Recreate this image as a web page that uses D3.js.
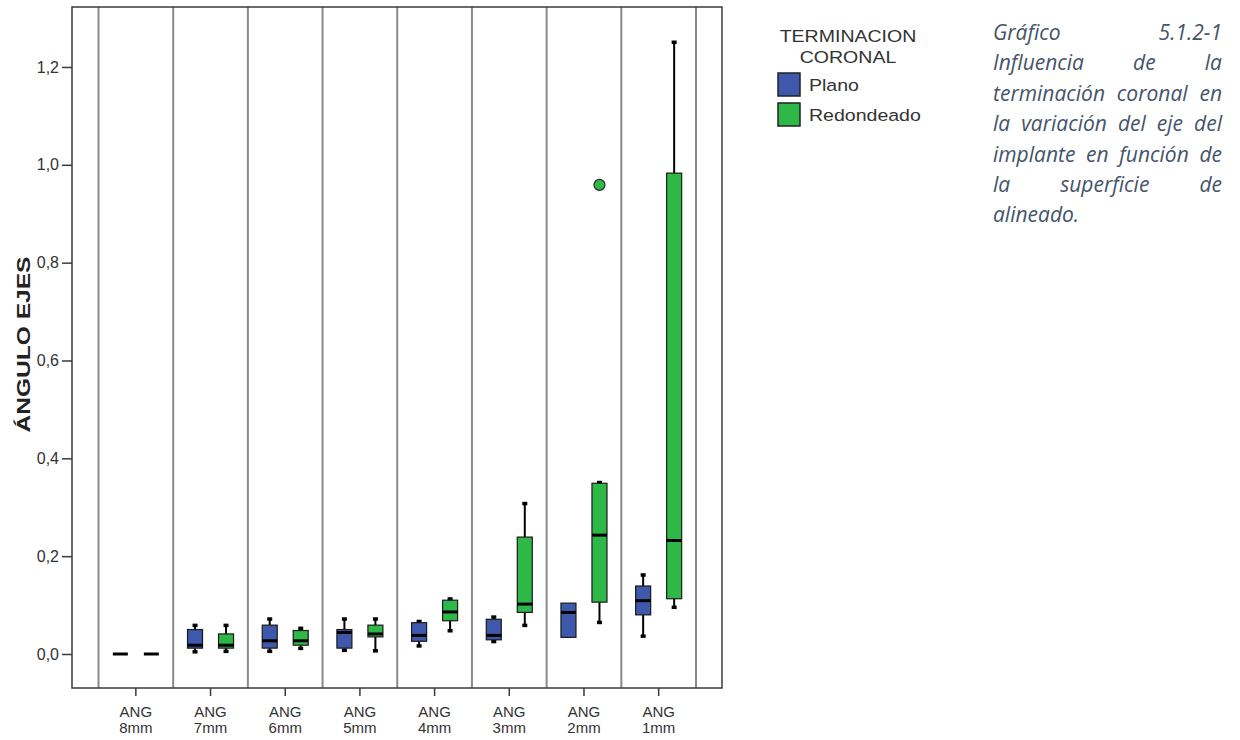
<!DOCTYPE html>
<html>
<head>
<meta charset="utf-8">
<script src="https://cdn.jsdelivr.net/npm/d3@7"></script>
<style>
  html, body { margin: 0; padding: 0; background: #ffffff; }
  svg { display: block; }
</style>
</head>
<body>
<svg id="chart" width="1240" height="740"></svg>
<script>
// Categories along the x axis (surface height of alignment)
const categories = ["ANG 8mm", "ANG 7mm", "ANG 6mm", "ANG 5mm", "ANG 4mm", "ANG 3mm", "ANG 2mm", "ANG 1mm"];
const seriesNames = ["Plano", "Redondeado"];
const seriesColors = ["#3E58AC", "#2EB848"];

// Box-plot statistics per category: lower whisker, Q1, median, Q3, upper whisker
const planoLow    = [0, 0.005, 0.006, 0.008, 0.017, 0.026, 0.034, 0.037];
const planoQ1     = [0, 0.012, 0.012, 0.012, 0.026, 0.029, 0.034, 0.080];
const planoMedian = [0, 0.018, 0.027, 0.044, 0.038, 0.038, 0.085, 0.109];
const planoQ3     = [0, 0.050, 0.059, 0.050, 0.064, 0.071, 0.104, 0.139];
const planoHigh   = [0, 0.058, 0.071, 0.071, 0.066, 0.075, 0.104, 0.161];

const redLow      = [0, 0.006, 0.012, 0.007, 0.048, 0.059, 0.065, 0.096];
const redQ1       = [0, 0.012, 0.018, 0.035, 0.068, 0.085, 0.106, 0.113];
const redMedian   = [0, 0.018, 0.027, 0.041, 0.086, 0.102, 0.243, 0.232];
const redQ3       = [0, 0.041, 0.048, 0.059, 0.110, 0.239, 0.349, 0.983];
const redHigh     = [0, 0.058, 0.052, 0.071, 0.112, 0.307, 0.350, 1.250];

// Outliers: category, series, value
const outlierCategory = ["ANG 2mm"];
const outlierSeries   = ["Redondeado"];
const outlierValue    = [0.959];

const yTicks = [0, 0.2, 0.4, 0.6, 0.8, 1.0, 1.2];
const yDomain = [-0.0695, 1.3226];

const axisTitle = "ÁNGULO EJES";
const legendTitle = ["TERMINACION", "CORONAL"];
const captionLines = [
  "Gráfico 5.1.2-1",
  "Influencia de la",
  "terminación coronal en",
  "la variación del eje del",
  "implante en función de",
  "la superficie de",
  "alineado."
];

// Build the box records from the arrays
const stats = [
  { low: planoLow, q1: planoQ1, med: planoMedian, q3: planoQ3, high: planoHigh },
  { low: redLow, q1: redQ1, med: redMedian, q3: redQ3, high: redHigh }
];
const boxes = [];
seriesNames.forEach((s, si) => {
  categories.forEach((c, ci) => {
    boxes.push({
      category: c, series: s,
      low: stats[si].low[ci], q1: stats[si].q1[ci], med: stats[si].med[ci],
      q3: stats[si].q3[ci], high: stats[si].high[ci]
    });
  });
});
const outliers = outlierValue.map((v, i) => ({
  category: outlierCategory[i], series: outlierSeries[i], value: v
}));

const svg = d3.select("#chart");
const frame = { left: 72, right: 722, top: 7, bottom: 688 };
const sans = "'Liberation Sans', Arial, sans-serif";

const x = d3.scaleBand().domain(categories).range([98.5, 696]).paddingInner(0).paddingOuter(0);
const xSub = d3.scaleBand().domain(seriesNames).range([-31, 31]);
const y = d3.scaleLinear().domain(yDomain).range([frame.bottom, frame.top]);
const color = d3.scaleOrdinal().domain(seriesNames).range(seriesColors);
const boxW = 15;

// Category separators
const seps = categories.map(c => x(c)).concat([x(categories[categories.length - 1]) + x.bandwidth()]);
svg.append("g").selectAll("line").data(seps).join("line")
  .attr("x1", d => d).attr("x2", d => d)
  .attr("y1", frame.top).attr("y2", frame.bottom)
  .attr("stroke", "#8a8a8a").attr("stroke-width", 2);

// Frame
svg.append("rect")
  .attr("x", frame.left).attr("y", frame.top)
  .attr("width", frame.right - frame.left).attr("height", frame.bottom - frame.top)
  .attr("fill", "none").attr("stroke", "#3a3a3a").attr("stroke-width", 1.5);

// Y axis
const yAxis = d3.axisLeft(y).tickValues(yTicks).tickSize(10).tickPadding(3)
  .tickFormat(d => d3.format(".1f")(d).replace(".", ","));
const gy = svg.append("g").attr("transform", `translate(${frame.left},0)`).call(yAxis);
gy.select(".domain").remove();
gy.selectAll(".tick line").attr("stroke", "#3a3a3a").attr("stroke-width", 1.5);
gy.selectAll(".tick text").attr("fill", "#333").style("font-family", sans).style("font-size", "16px");

// X axis
const xAxis = d3.axisBottom(x).tickSize(8).tickPadding(8).tickFormat("");
const gx = svg.append("g").attr("transform", `translate(0,${frame.bottom})`).call(xAxis);
gx.select(".domain").remove();
gx.selectAll(".tick line").attr("stroke", "#3a3a3a").attr("stroke-width", 1.5);
gx.selectAll(".tick").each(function(d) {
  const parts = d.split(" ");
  const t = d3.select(this).append("text")
    .attr("fill", "#333").attr("text-anchor", "middle")
    .style("font-family", sans).style("font-size", "15px");
  t.append("tspan").attr("x", 0).attr("y", 29).text(parts[0]);
  t.append("tspan").attr("x", 0).attr("y", 45).text(parts[1]);
});

// Axis title
svg.append("text")
  .attr("transform", `translate(30,${(y(0.4) + y(0.8)) / 2 - 16}) rotate(-90)`)
  .attr("text-anchor", "middle")
  .attr("fill", "#222")
  .attr("textLength", 176).attr("lengthAdjust", "spacingAndGlyphs")
  .style("font-family", sans)
  .style("font-weight", "bold").style("font-size", "19px")
  .text(axisTitle);

// Boxes
const g = svg.append("g");
const bx = d => x(d.category) + x.bandwidth() / 2 + xSub(d.series) + xSub.bandwidth() / 2;

const items = g.selectAll("g.box").data(boxes).join("g").attr("class", "box");
// whiskers
items.filter(d => d.high > d.q3).append("line")
  .attr("x1", bx).attr("x2", bx).attr("y1", d => y(d.q3)).attr("y2", d => y(d.high))
  .attr("stroke", "#000").attr("stroke-width", 2);
items.filter(d => d.low < d.q1).append("line")
  .attr("x1", bx).attr("x2", bx).attr("y1", d => y(d.q1)).attr("y2", d => y(d.low))
  .attr("stroke", "#000").attr("stroke-width", 2);
// whisker end caps
items.filter(d => d.high > d.q3).append("rect")
  .attr("x", d => bx(d) - 2.5).attr("y", d => y(d.high) - 2).attr("width", 5).attr("height", 3.5).attr("fill", "#000");
items.filter(d => d.low < d.q1).append("rect")
  .attr("x", d => bx(d) - 2.5).attr("y", d => y(d.low) - 1.5).attr("width", 5).attr("height", 3.5).attr("fill", "#000");
// box
items.filter(d => d.q3 > d.q1).append("rect")
  .attr("x", d => bx(d) - boxW / 2).attr("y", d => y(d.q3))
  .attr("width", boxW).attr("height", d => y(d.q1) - y(d.q3))
  .attr("fill", d => color(d.series)).attr("stroke", "#1a1a1a").attr("stroke-width", 1.2);
// median
items.append("line")
  .attr("x1", d => bx(d) - boxW / 2).attr("x2", d => bx(d) + boxW / 2)
  .attr("y1", d => y(d.med)).attr("y2", d => y(d.med))
  .attr("stroke", "#000").attr("stroke-width", 3);

// Outliers
g.selectAll("circle.out").data(outliers).join("circle").attr("class", "out")
  .attr("cx", bx).attr("cy", d => y(d.value)).attr("r", 5.5)
  .attr("fill", d => color(d.series)).attr("stroke", "#2a2a2a").attr("stroke-width", 1.2);

// Legend (text is drawn slightly widened)
const leg = svg.append("g").style("font-family", sans);
leg.selectAll("text.title").data(legendTitle).join("text").attr("class", "title")
  .attr("transform", (d, i) => `translate(848,${42 + i * 21}) scale(1.15,1)`)
  .attr("text-anchor", "middle")
  .attr("fill", "#333").style("font-size", "17px").text(d => d);
const li = leg.selectAll("g.item").data(seriesNames).join("g").attr("class", "item")
  .attr("transform", (d, i) => `translate(778,${73 + i * 30})`);
li.append("rect").attr("width", 22).attr("height", 23)
  .attr("fill", d => color(d)).attr("stroke", "#222").attr("stroke-width", 1.5);
li.append("text").attr("transform", "translate(31,18) scale(1.15,1)")
  .attr("fill", "#333").style("font-size", "17px").text(d => d);

// Caption, justified between two margins
const capLeft = 993, capRight = 1222, capTop = 40, capStep = 30.4;
const cap = svg.append("g")
  .style("font-family", "'Open Sans', Lato, sans-serif")
  .style("font-style", "italic").style("font-size", "21px").attr("fill", "#44546A");
captionLines.forEach((line, li2) => {
  const words = line.split(" ");
  const yy = capTop + li2 * capStep;
  const nodes = words.map(w => cap.append("text").attr("y", yy).text(w));
  const widths = nodes.map(n => n.node().getComputedTextLength());
  const total = d3.sum(widths);
  const last = li2 === captionLines.length - 1;
  const gap = (!last && words.length > 1) ? Math.max(4, (capRight - capLeft - total) / (words.length - 1)) : 5;
  let cx = capLeft;
  nodes.forEach((n, i) => { n.attr("x", cx); cx += widths[i] + gap; });
});
</script>
</body>
</html>
